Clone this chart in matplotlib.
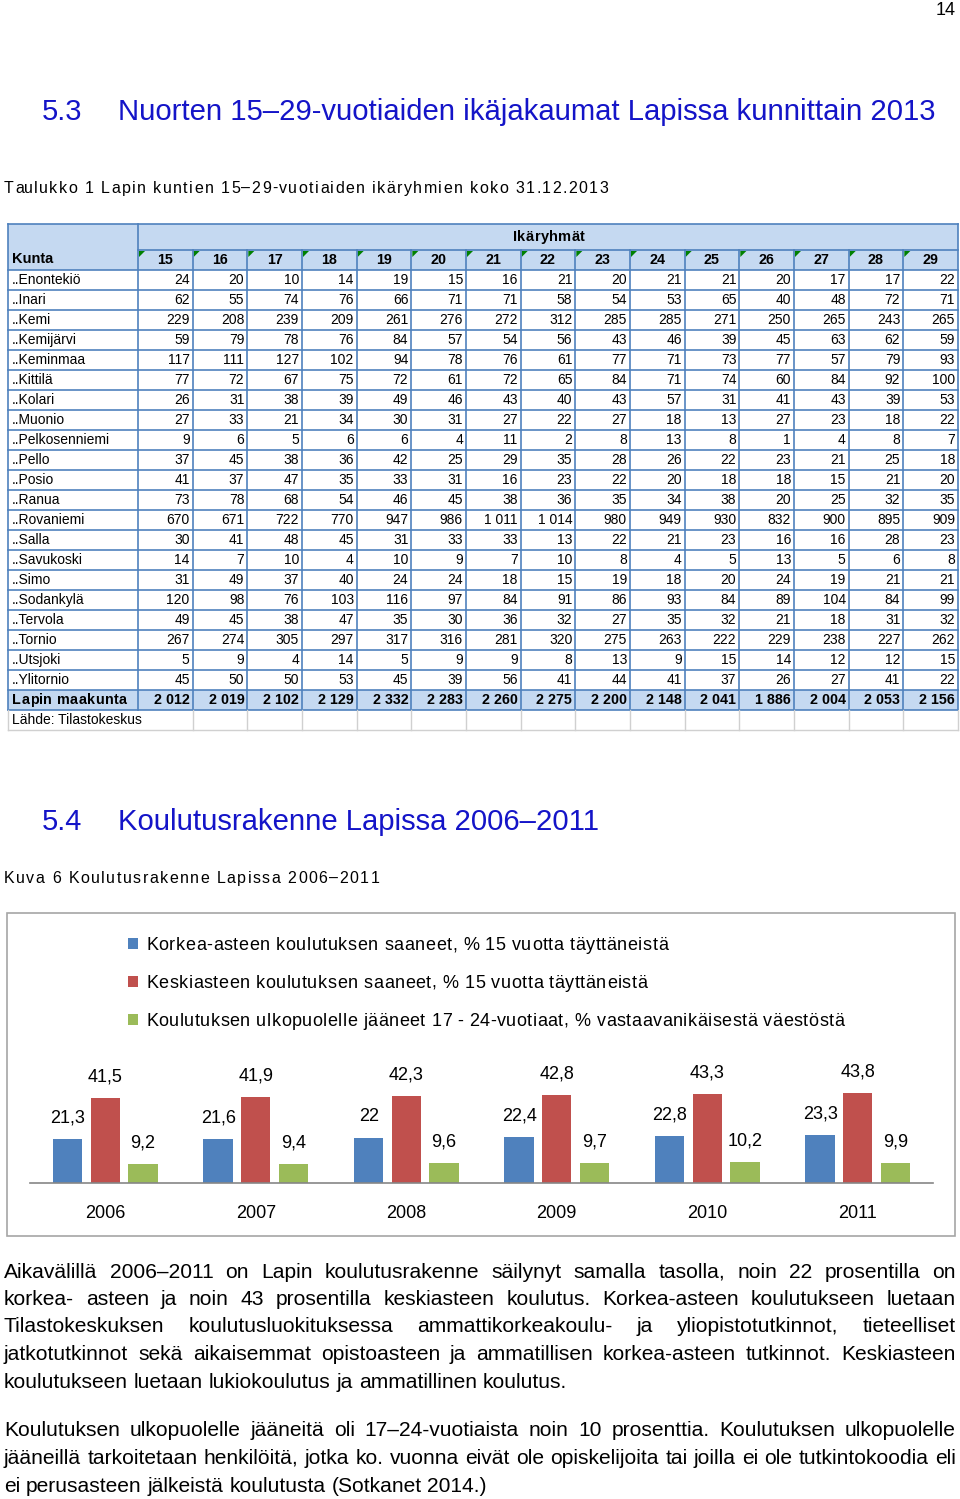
import matplotlib
matplotlib.use("Agg")
import matplotlib.pyplot as plt
from matplotlib.patches import Rectangle, Polygon
from matplotlib.font_manager import FontProperties

plt.rcParams["font.family"] = ["Liberation Sans", "DejaVu Sans"]

# --- table 1: 15-29-year-olds by municipality, 31.12.2013 ---
ages = list(range(15, 30))
municipalities = ["..Enontekiö", "..Inari", "..Kemi", "..Kemijärvi", "..Keminmaa",
                  "..Kittilä", "..Kolari", "..Muonio", "..Pelkosenniemi", "..Pello",
                  "..Posio", "..Ranua", "..Rovaniemi", "..Salla", "..Savukoski",
                  "..Simo", "..Sodankylä", "..Tervola", "..Tornio", "..Utsjoki",
                  "..Ylitornio"]
enontekio = [24, 20, 10, 14, 19, 15, 16, 21, 20, 21, 21, 20, 17, 17, 22]
inari = [62, 55, 74, 76, 66, 71, 71, 58, 54, 53, 65, 40, 48, 72, 71]
kemi = [229, 208, 239, 209, 261, 276, 272, 312, 285, 285, 271, 250, 265, 243, 265]
kemijarvi = [59, 79, 78, 76, 84, 57, 54, 56, 43, 46, 39, 45, 63, 62, 59]
keminmaa = [117, 111, 127, 102, 94, 78, 76, 61, 77, 71, 73, 77, 57, 79, 93]
kittila = [77, 72, 67, 75, 72, 61, 72, 65, 84, 71, 74, 60, 84, 92, 100]
kolari = [26, 31, 38, 39, 49, 46, 43, 40, 43, 57, 31, 41, 43, 39, 53]
muonio = [27, 33, 21, 34, 30, 31, 27, 22, 27, 18, 13, 27, 23, 18, 22]
pelkosenniemi = [9, 6, 5, 6, 6, 4, 11, 2, 8, 13, 8, 1, 4, 8, 7]
pello = [37, 45, 38, 36, 42, 25, 29, 35, 28, 26, 22, 23, 21, 25, 18]
posio = [41, 37, 47, 35, 33, 31, 16, 23, 22, 20, 18, 18, 15, 21, 20]
ranua = [73, 78, 68, 54, 46, 45, 38, 36, 35, 34, 38, 20, 25, 32, 35]
rovaniemi = [670, 671, 722, 770, 947, 986, 1011, 1014, 980, 949, 930, 832, 900, 895, 909]
salla = [30, 41, 48, 45, 31, 33, 33, 13, 22, 21, 23, 16, 16, 28, 23]
savukoski = [14, 7, 10, 4, 10, 9, 7, 10, 8, 4, 5, 13, 5, 6, 8]
simo = [31, 49, 37, 40, 24, 24, 18, 15, 19, 18, 20, 24, 19, 21, 21]
sodankyla = [120, 98, 76, 103, 116, 97, 84, 91, 86, 93, 84, 89, 104, 84, 99]
tervola = [49, 45, 38, 47, 35, 30, 36, 32, 27, 35, 32, 21, 18, 31, 32]
tornio = [267, 274, 305, 297, 317, 316, 281, 320, 275, 263, 222, 229, 238, 227, 262]
utsjoki = [5, 9, 4, 14, 5, 9, 9, 8, 13, 9, 15, 14, 12, 12, 15]
ylitornio = [45, 50, 50, 53, 45, 39, 56, 41, 44, 41, 37, 26, 27, 41, 22]
lapin_maakunta = [2012, 2019, 2102, 2129, 2332, 2283, 2260, 2275, 2200, 2148,
                  2041, 1886, 2004, 2053, 2156]
counts = [enontekio, inari, kemi, kemijarvi, keminmaa, kittila, kolari, muonio,
          pelkosenniemi, pello, posio, ranua, rovaniemi, salla, savukoski, simo,
          sodankyla, tervola, tornio, utsjoki, ylitornio]

# --- figure 6: education structure 2006-2011 ---
years = ["2006", "2007", "2008", "2009", "2010", "2011"]
korkea = [21.3, 21.6, 22.0, 22.4, 22.8, 23.3]
keski = [41.5, 41.9, 42.3, 42.8, 43.3, 43.8]
ulkopuolella = [9.2, 9.4, 9.6, 9.7, 10.2, 9.9]
series_names = ["Korkea-asteen koulutuksen saaneet, % 15 vuotta täyttäneistä",
                "Keskiasteen koulutuksen saaneet, % 15 vuotta täyttäneistä",
                "Koulutuksen ulkopuolelle jääneet 17 - 24-vuotiaat, % vastaavanikäisestä väestöstä"]

paragraph1 = [
    "Aikavälillä 2006–2011 on Lapin koulutusrakenne säilynyt samalla tasolla, noin 22 prosentilla on",
    "korkea- asteen ja noin 43 prosentilla keskiasteen koulutus. Korkea-asteen koulutukseen luetaan",
    "Tilastokeskuksen koulutusluokituksessa ammattikorkeakoulu- ja yliopistotutkinnot, tieteelliset",
    "jatkotutkinnot sekä aikaisemmat opistoasteen ja ammatillisen korkea-asteen tutkinnot. Keskiasteen",
    "koulutukseen luetaan lukiokoulutus ja ammatillinen koulutus.",
]
paragraph2 = [
    "Koulutuksen ulkopuolelle jääneitä oli 17–24-vuotiaista noin 10 prosenttia. Koulutuksen ulkopuolelle",
    "jääneillä tarkoitetaan henkilöitä, jotka ko. vuonna eivät ole opiskelijoita tai joilla ei ole tutkintokoodia eli",
    "ei perusasteen jälkeistä koulutusta (Sotkanet 2014.)",
]


def fmt_int(v):
    return f"{v:,}".replace(",", " ")


def fmt_dec(v):
    return f"{v:g}".replace(".", ",")


W, H = 960, 1499
fig = plt.figure(figsize=(W / 100, H / 100), dpi=100)
page = fig.add_axes([0, 0, 1, 1])
page.set_xlim(0, W)
page.set_ylim(H, 0)
page.axis("off")
renderer = fig.canvas.get_renderer()


def text_w(s, size, weight="normal"):
    # pixel width of s, trailing spaces included (measured against a sentinel)
    fp = FontProperties(family=["Liberation Sans"], size=size, weight=weight)
    full = renderer.get_text_width_height_descent(s + "|", fp, ismath=False)[0]
    bar = renderer.get_text_width_height_descent("|", fp, ismath=False)[0]
    return full - bar


def tracked(x, y, s, target, size, weight="normal", **kw):
    # letter-spaced text stretched to the target pixel width (Excel/Word look)
    track = (target - text_w(s, size, weight)) / max(len(s) - 1, 1)
    for i, c in enumerate(s):
        if c != " ":
            page.text(x + text_w(s[:i], size, weight) + i * track, y, c,
                      fontsize=size, weight=weight, va="center", **kw)


TITLE_BLUE = "#1414c8"
page.text(956, 10, "14", fontsize=13, ha="right", va="center")
page.text(42, 112, "5.3", fontsize=21, color=TITLE_BLUE, va="center")
page.text(118, 112, "Nuorten 15–29-vuotiaiden ikäjakaumat Lapissa kunnittain 2013",
          fontsize=21.1, color=TITLE_BLUE, va="center")
tracked(4, 188, "Taulukko 1 Lapin kuntien 15–29-vuotiaiden ikäryhmien koko 31.12.2013",
        604, 11.5)

# ---- table ----
x0, x1, xr = 8, 138, 958
cw = (xr - x1) / len(ages)
yt, yh2, yd, rh = 224, 250, 270, 20
grid = "#4f81bd"
hdr_fill = "#c5d9f1"
tfs = 10

page.add_patch(Rectangle((x0, yt), xr - x0, yd - yt, fc=hdr_fill, ec="none"))
y_tot = yd + rh * len(municipalities)
page.add_patch(Rectangle((x0, y_tot), xr - x0, rh, fc=hdr_fill, ec="none"))

for k in range(len(ages)):
    cx = x1 + k * cw
    page.add_patch(Polygon([(cx + 1, yh2 + 1), (cx + 7, yh2 + 1), (cx + 1, yh2 + 7)],
                           closed=True, fc="#008000", ec="none"))

page.plot([x0, xr], [yt, yt], color=grid, lw=1.2)
page.plot([x1, xr], [yh2, yh2], color=grid, lw=1.2)
for r in range(len(municipalities) + 2):
    y = yd + r * rh
    page.plot([x0, xr], [y, y], color=grid, lw=1.2)
for x in (x0, x1, xr):
    page.plot([x, x], [yt, y_tot + rh], color=grid, lw=1.2)
for k in range(1, len(ages)):
    x = x1 + k * cw
    page.plot([x, x], [yh2, y_tot + rh], color=grid, lw=1.2)

# source row, light grey grid
ys = y_tot + rh
page.plot([x0, xr], [ys + rh, ys + rh], color="#d0d0d0", lw=1.0)
for k in range(1, len(ages) + 1):
    x = x1 + k * cw
    page.plot([x, x], [ys, ys + rh], color="#d0d0d0", lw=1.0)
page.plot([x0, x0], [ys, ys + rh], color="#d0d0d0", lw=1.0)
page.text(12, ys + rh / 2, "Lähde: Tilastokeskus", fontsize=tfs, va="center")

tracked(513, (yt + yh2) / 2, "Ikäryhmät", 72, 10.5, weight="bold")
page.text(12, (yh2 + yd) / 2 - 1, "Kunta", fontsize=10.5, weight="bold", va="center")
for k, a in enumerate(ages):
    page.text(x1 + (k + 0.5) * cw, (yh2 + yd) / 2, str(a), fontsize=10.3, weight="bold",
              ha="center", va="center")

for r, (name, row) in enumerate(zip(municipalities, counts)):
    yc = yd + (r + 0.5) * rh
    page.text(12, yc, name, fontsize=tfs, va="center")
    for k, v in enumerate(row):
        page.text(x1 + (k + 1) * cw - 3, yc, fmt_int(v), fontsize=tfs,
                  ha="right", va="center")
yc = y_tot + rh / 2
tracked(12, yc, "Lapin maakunta", 115, 10.3, weight="bold")
for k, v in enumerate(lapin_maakunta):
    page.text(x1 + (k + 1) * cw - 3, yc, fmt_int(v), fontsize=10.3, weight="bold",
              ha="right", va="center")

# ---- section 5.4 ----
page.text(42, 822, "5.4", fontsize=21, color=TITLE_BLUE, va="center")
page.text(118, 822, "Koulutusrakenne Lapissa 2006–2011", fontsize=21.1,
          color=TITLE_BLUE, va="center")
tracked(4, 878, "Kuva 6 Koulutusrakenne Lapissa 2006–2011", 374, 11.5)

page.add_patch(Rectangle((7, 913), 948, 323, fc="white", ec="#a6a6a6", lw=1.2))

base_y, top_y = 1183, 1080
ax = fig.add_axes([30 / W, 1 - base_y / H, 903 / W, (base_y - top_y) / H])
ax.set_xlim(-0.5, len(years) - 0.5)
ax.set_ylim(0, 50)
ax.patch.set_alpha(0)
for s in ("top", "right", "left"):
    ax.spines[s].set_visible(False)
ax.spines["bottom"].set_color("#868686")
ax.spines["bottom"].set_linewidth(1.2)
ax.set_yticks([])
ax.set_xticks(range(len(years)))
ax.set_xticklabels(years, fontsize=13)
ax.tick_params(axis="x", length=0, pad=16)

colors = ["#4f81bd", "#c0504d", "#9bbb59"]
bw, off = 0.195, 0.25
handles = []
for i, (vals, c) in enumerate(zip([korkea, keski, ulkopuolella], colors)):
    xs = [j + (i - 1) * off for j in range(len(years))]
    bars = ax.bar(xs, vals, width=bw, color=c)
    handles.append(bars)
    for x, v in zip(xs, vals):
        ax.annotate(fmt_dec(v), (x, v), xytext=(0, 21), textcoords="offset pixels",
                    ha="center", va="center", fontsize=13, annotation_clip=False)

leg = page.legend(handles, series_names, loc="upper left", bbox_to_anchor=(128, 937),
                  bbox_transform=page.transData, frameon=False, fontsize=13,
                  borderpad=0, borderaxespad=0, handlelength=0.55, handleheight=0.55,
                  handletextpad=0.45, labelspacing=1.15)
# legend labels are re-drawn letter-spaced like the Excel original
fig.canvas.draw()
legend_widths = [522, 501, 698]
inv = page.transData.inverted()
for t, target in zip(leg.get_texts(), legend_widths):
    bb = t.get_window_extent(renderer)
    (lx, ly0), (_, ly1) = inv.transform([(bb.x0, bb.y0), (bb.x1, bb.y1)])
    t.set_color("none")
    tracked(lx, (ly0 + ly1) / 2, t.get_text(), target, 13)

# ---- justified body text ----
bfs = 15.1


def put_line(line, y, justify):
    words = line.split()
    widths = [text_w(w, bfs) for w in words]
    if justify and len(words) > 1:
        gap = (956 - 4 - sum(widths)) / (len(words) - 1)
    else:
        gap = text_w(" ", bfs)
    x = 4
    for w, wd in zip(words, widths):
        page.text(x, y, w, fontsize=bfs, va="baseline")
        x += wd + gap


for i, line in enumerate(paragraph1):
    put_line(line, 1277.5 + i * 27.5, i < len(paragraph1) - 1)
for i, line in enumerate(paragraph2):
    put_line(line, 1436.5 + i * 27.5, i < len(paragraph2) - 1)

fig.savefig("out.png", dpi=100)
